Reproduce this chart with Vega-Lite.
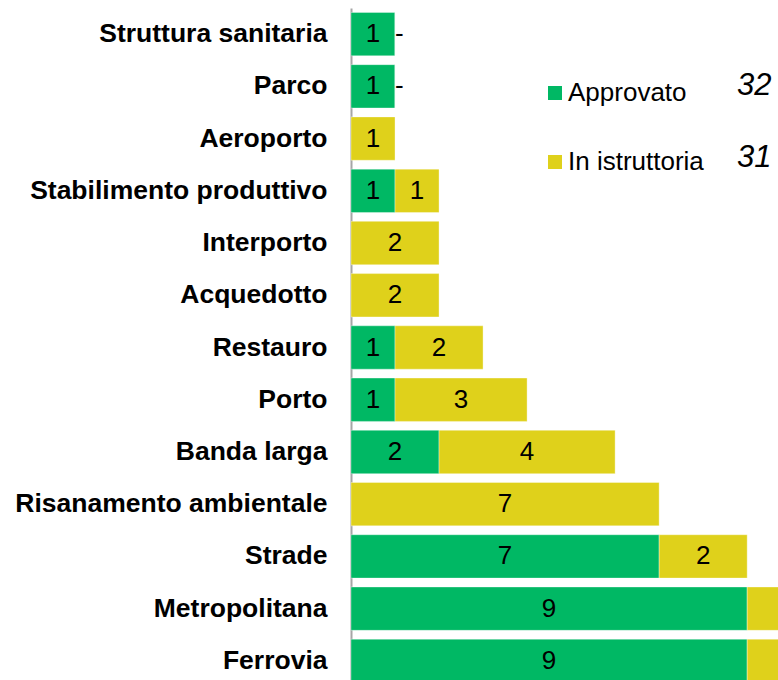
{
  "$schema": "https://vega.github.io/schema/vega-lite/v6.json",
  "width": 427,
  "height": 679,
  "autosize": "none",
  "padding": {"left": 351, "top": 8, "right": 0, "bottom": 0},
  "config": {"view": {"stroke": null}, "font": "Liberation Sans"},
  "datasets": {
    "bars": [
      {"cat": "Struttura sanitaria", "serie": "Approvato", "val": 1},
      {"cat": "Struttura sanitaria", "serie": "In istruttoria", "val": 0},
      {"cat": "Parco", "serie": "Approvato", "val": 1},
      {"cat": "Parco", "serie": "In istruttoria", "val": 0},
      {"cat": "Aeroporto", "serie": "In istruttoria", "val": 1},
      {"cat": "Stabilimento produttivo", "serie": "Approvato", "val": 1},
      {"cat": "Stabilimento produttivo", "serie": "In istruttoria", "val": 1},
      {"cat": "Interporto", "serie": "In istruttoria", "val": 2},
      {"cat": "Acquedotto", "serie": "In istruttoria", "val": 2},
      {"cat": "Restauro", "serie": "Approvato", "val": 1},
      {"cat": "Restauro", "serie": "In istruttoria", "val": 2},
      {"cat": "Porto", "serie": "Approvato", "val": 1},
      {"cat": "Porto", "serie": "In istruttoria", "val": 3},
      {"cat": "Banda larga", "serie": "Approvato", "val": 2},
      {"cat": "Banda larga", "serie": "In istruttoria", "val": 4},
      {"cat": "Risanamento ambientale", "serie": "In istruttoria", "val": 7},
      {"cat": "Strade", "serie": "Approvato", "val": 7},
      {"cat": "Strade", "serie": "In istruttoria", "val": 2},
      {"cat": "Metropolitana", "serie": "Approvato", "val": 9},
      {"cat": "Metropolitana", "serie": "In istruttoria", "val": 4},
      {"cat": "Ferrovia", "serie": "Approvato", "val": 9},
      {"cat": "Ferrovia", "serie": "In istruttoria", "val": 3}
    ],
    "totali": [
      {"serie": "Approvato", "totale": "32"},
      {"serie": "In istruttoria", "totale": "31"}
    ]
  },
  "layer": [
    {
      "data": {"name": "bars"},
      "transform": [
        {"stack": "val", "groupby": ["cat"], "sort": [{"field": "serie", "order": "ascending"}], "as": ["v0", "v1"]}
      ],
      "encoding": {
        "y": {
          "field": "cat",
          "type": "nominal",
          "sort": ["Struttura sanitaria", "Parco", "Aeroporto", "Stabilimento produttivo", "Interporto", "Acquedotto", "Restauro", "Porto", "Banda larga", "Risanamento ambientale", "Strade", "Metropolitana", "Ferrovia"],
          "scale": {"paddingInner": 0.17, "paddingOuter": 0.085},
          "axis": {
            "title": null,
            "ticks": false,
            "labelFont": "Liberation Sans",
            "labelFontWeight": "bold",
            "labelFontSize": 26.5,
            "labelColor": "#000000",
            "labelPadding": 24,
            "domainColor": "#a6a6a6",
            "domainWidth": 2,
            "labelLimit": 400
          }
        },
        "x": {"field": "v0", "type": "quantitative", "scale": {"domain": [0, 9.7], "nice": false, "zero": true}, "axis": null}
      },
      "layer": [
        {
          "mark": {"type": "bar", "clip": true, "stroke": "#ffffff", "strokeOpacity": 0.35, "strokeWidth": 1},
          "encoding": {
            "x2": {"field": "v1"},
            "color": {
              "field": "serie",
              "type": "nominal",
              "scale": {"domain": ["Approvato", "In istruttoria"], "range": ["#00b864", "#dfd11b"]},
              "legend": {
                "orient": "none",
                "legendX": 191,
                "legendY": 72,
                "title": null,
                "padding": 0,
                "symbolType": "square",
                "symbolSize": 196,
                "symbolStrokeWidth": 0,
                "labelFont": "Liberation Sans",
                "labelFontSize": 26,
                "labelColor": "#000000",
                "labelOffset": 0,
                "rowPadding": 43,
                "labelLimit": 300
              }
            }
          }
        },
        {
          "transform": [{"filter": "datum.val > 0 && datum.v1 <= 9.7"}],
          "mark": {"type": "text", "fontSize": 26, "color": "#000000", "baseline": "middle", "align": "center", "clip": true, "dx": {"expr": "scale('x', datum.val) / 2"}},
          "encoding": {
            "text": {"field": "val", "type": "quantitative"}
          }
        },
        {
          "transform": [{"filter": "datum.val == 0"}],
          "mark": {"type": "text", "fontSize": 26, "color": "#000000", "baseline": "middle", "align": "left"},
          "encoding": {"text": {"value": "-"}}
        }
      ]
    },
    {
      "data": {"name": "totali"},
      "mark": {"type": "point", "opacity": 0},
      "encoding": {
        "shape": {
          "field": "totale",
          "type": "nominal",
          "scale": {"domain": ["32", "31"]},
          "legend": {
            "orient": "none",
            "legendX": 355,
            "legendY": 62,
            "title": null,
            "padding": 0,
            "symbolSize": 0,
            "symbolOpacity": 0,
            "labelOffset": 0,
            "labelFont": "Liberation Sans",
            "labelFontSize": 31,
            "labelFontStyle": "italic",
            "labelColor": "#000000",
            "rowPadding": 40
          }
        }
      }
    }
  ]
}
